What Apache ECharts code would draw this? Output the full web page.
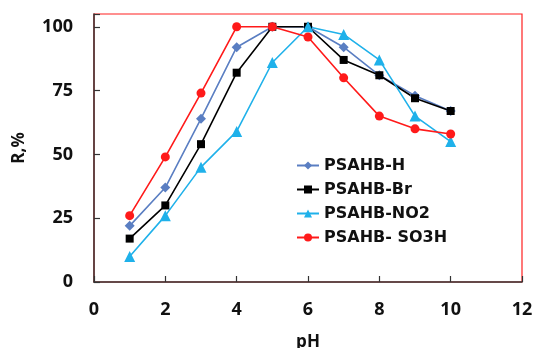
<!DOCTYPE html>
<html>
<head>
<meta charset="utf-8">
<script src="https://cdn.jsdelivr.net/npm/echarts@6/dist/echarts.min.js"></script>
<style>html,body{margin:0;padding:0;background:#fff}#c{width:535px;height:348px}</style>
</head>
<body>
<div id="c"></div>
<script>
const pH = [1, 2, 3, 4, 5, 6, 7, 8, 9, 10];
const seriesNames = ['PSAHB-H', 'PSAHB-Br', 'PSAHB-NO2', 'PSAHB- SO3H'];
const psahbH = [22, 37, 64, 92, 100, 100, 92, 81, 73, 67];
const psahbBr = [17, 30, 54, 82, 100, 100, 87, 81, 72, 67];
const psahbNO2 = [10, 26, 45, 59, 86, 100, 97, 87, 65, 55];
const psahbSO3H = [26, 49, 74, 100, 100, 96, 80, 65, 60, 58];
const xTicks = [0, 2, 4, 6, 8, 10, 12];
const yTicks = [0, 25, 50, 75, 100];

const values = [psahbH, psahbBr, psahbNO2, psahbSO3H];
const colors = ['#5A7EC2', '#000000', '#1FB1EA', '#FF1A1A'];
const symbols = ['diamond', 'rect', 'triangle', 'circle'];
const sizes = [10, 8, 11, 9];

const chart = echarts.init(document.getElementById('c'));
const font = 'Open Sans, sans-serif';
chart.setOption({
  animation: false,
  grid: {left: 94, right: 13, top: 14, bottom: 66, show: true, borderColor: '#FF2020', borderWidth: 1.2,
    backgroundColor: 'transparent', containLabel: false, outerBoundsMode: 'none'},
  legend: {
    orient: 'vertical', left: 291, top: 151, itemWidth: 22, itemHeight: 10, itemGap: 5,
    textStyle: {fontFamily: 'DejaVu Sans', fontWeight: 'bold', fontSize: 16, color: '#111', lineHeight: 19},
    data: seriesNames
  },
  xAxis: {
    type: 'value', min: 0, max: 12, interval: 2,
    name: 'pH', nameLocation: 'middle', nameGap: 52,
    nameTextStyle: {fontFamily: font, fontWeight: 'bold', fontSize: 17, color: '#111'},
    axisLine: {show: true, onZero: false, lineStyle: {color: '#333', width: 1.5}},
    axisTick: {show: true, inside: true, length: 6, lineStyle: {color: '#333', width: 1.2}},
    axisLabel: {fontFamily: font, fontWeight: 'bold', fontSize: 18, color: '#111', margin: 19,
      formatter: v => xTicks.includes(v) ? String(v) : ''},
    splitLine: {show: false}
  },
  yAxis: {
    type: 'value', min: 0, max: 105, interval: 25,
    name: 'R,%', nameLocation: 'middle', nameGap: 66, nameRotate: 90,
    nameTextStyle: {fontFamily: font, fontWeight: 'bold', fontSize: 17, color: '#111'},
    axisLine: {show: true, onZero: false, lineStyle: {color: '#333', width: 1.5}},
    axisTick: {show: true, inside: true, length: 6, lineStyle: {color: '#333', width: 1.2}},
    axisLabel: {fontFamily: font, fontWeight: 'bold', fontSize: 18, color: '#111', margin: 21,
      formatter: v => yTicks.includes(v) ? String(v) : ''},
    splitLine: {show: false}
  },
  series: values.map((vals, i) => ({
    name: seriesNames[i], type: 'line',
    data: pH.map((x, j) => [x, vals[j]]),
    symbol: symbols[i], symbolSize: sizes[i], showSymbol: true,
    itemStyle: {color: colors[i]},
    lineStyle: {color: colors[i], width: 1.6}
  }))
});
</script>
</body>
</html>
